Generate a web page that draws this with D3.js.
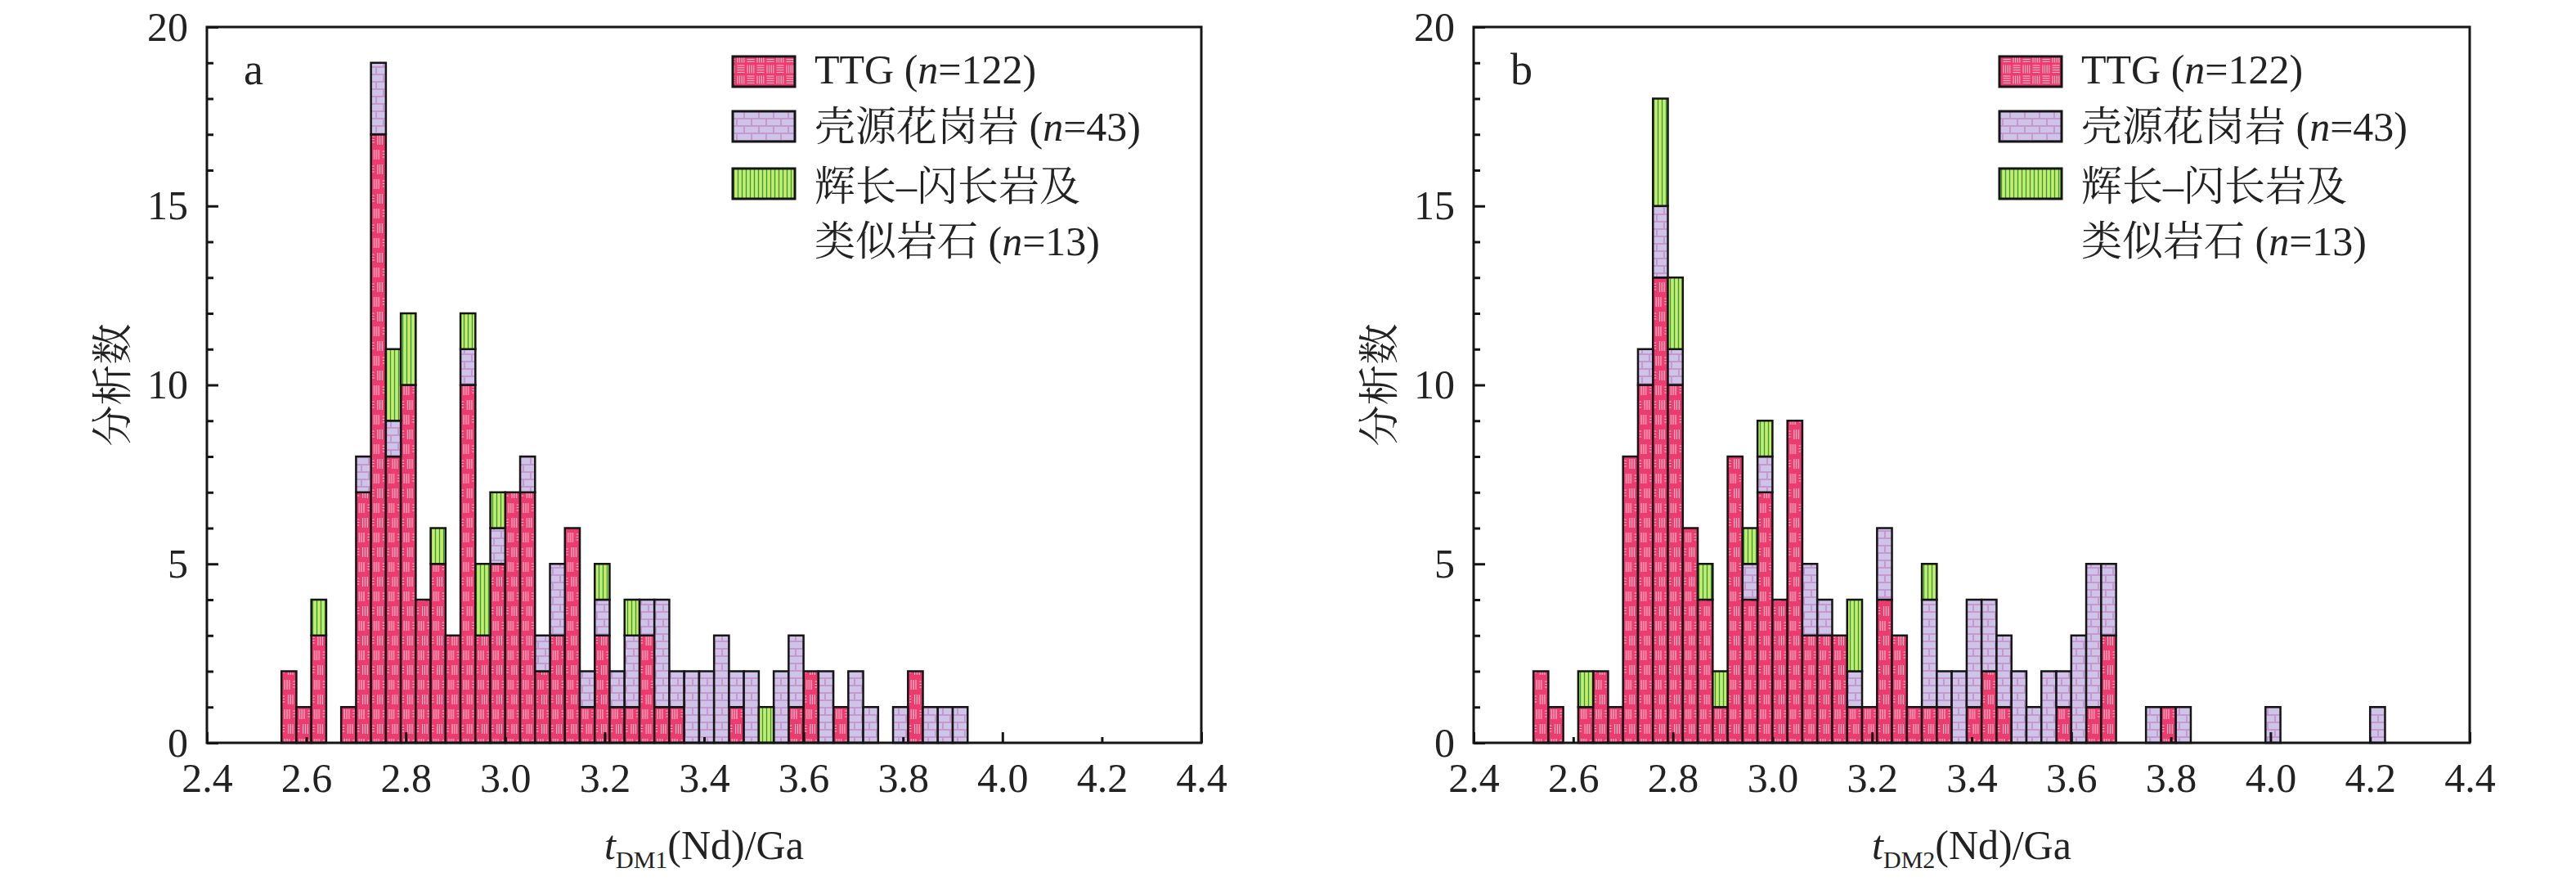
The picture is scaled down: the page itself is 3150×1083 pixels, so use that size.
<!DOCTYPE html>
<html><head><meta charset="utf-8">
<script src="https://cdn.jsdelivr.net/npm/d3@7"></script>
<style>body{margin:0;background:#fff}svg{display:block}</style>
</head><body>
<script>
// ---------- DATA ----------
const binWidth = 0.03;
const binsA = [2.55,2.58,2.61,2.64,2.67,2.70,2.73,2.76,2.79,2.82,2.85,2.88,2.91,2.94,2.97,3.00,3.03,3.06,3.09,3.12,3.15,3.18,3.21,3.24,3.27,3.30,3.33,3.36,3.39,3.42,3.45,3.48,3.51,3.54,3.57,3.60,3.63,3.66,3.69,3.72,3.75,3.78,3.81,3.84,3.87,3.90];
const ttgA   = [2,1,3,0,1,7,17,8,10,4,5,3,10,3,5,7,7,2,3,6,1,3,1,1,3,1,1,0,0,0,1,0,0,0,1,2,0,1,0,0,0,0,2,0,0,0];
const crustA = [0,0,0,0,0,1,2,1,0,0,0,0,1,0,1,0,1,1,2,0,1,1,1,2,1,3,1,2,2,3,1,2,0,2,2,0,2,0,2,1,0,1,0,1,1,1];
const gabA   = [0,0,1,0,0,0,0,2,2,0,1,0,1,2,1,0,0,0,0,0,0,1,0,1,0,0,0,0,0,0,0,0,1,0,0,0,0,0,0,0,0,0,0,0,0,0];

const binsB = [2.52,2.55,2.58,2.61,2.64,2.67,2.70,2.73,2.76,2.79,2.82,2.85,2.88,2.91,2.94,2.97,3.00,3.03,3.06,3.09,3.12,3.15,3.18,3.21,3.24,3.27,3.30,3.33,3.36,3.39,3.42,3.45,3.48,3.51,3.54,3.57,3.60,3.63,3.66,3.69,3.72,3.75,3.78,3.81,3.84,3.87,3.90,3.93,3.96,3.99,4.02,4.05,4.08,4.11,4.14,4.17,4.20];
const ttgB   = [2,1,0,1,2,1,8,10,13,10,6,4,1,8,4,7,4,9,3,3,3,1,1,4,3,1,1,1,0,1,2,1,0,0,0,1,0,1,3,0,0,0,1,0,0,0,0,0,0,0,0,0,0,0,0,0,0];
const crustB = [0,0,0,0,0,0,0,1,2,1,0,0,0,0,1,1,0,0,2,1,0,1,0,2,0,0,3,1,2,3,2,2,2,1,2,1,3,4,2,0,0,1,0,1,0,0,0,0,0,1,0,0,0,0,0,0,1];
const gabB   = [0,0,0,1,0,0,0,0,3,2,0,1,1,0,1,1,0,0,0,0,0,2,0,0,0,0,1,0,0,0,0,0,0,0,0,0,0,0,0,0,0,0,0,0,0,0,0,0,0,0,0,0,0,0,0,0,0];

const xTickLabels = [2.4,2.6,2.8,3.0,3.2,3.4,3.6,3.8,4.0,4.2,4.4];
const yTickValues = [0,1,2,3,4,5,6,7,8,9,10,11,12,13,14,15,16,17,18,19,20];
const seriesKeys = ["TTG","CG","GD"];
const legendLabels = [
  [["TTG (",false],["n",true],["=122)",false]],
  [["壳源花岗岩 (",false],["n",true],["=43)",false]],
  [["辉长–闪长岩及",false]],
  [["类似岩石 (",false],["n",true],["=13)",false]]
];
const yTitle = "分析数";

// ---------- LAYOUT ----------
const W = 3150, H = 1083, TOP = 33, BOTTOM = 908;
const SERIF = "'Liberation Serif','Times New Roman','Noto Serif CJK SC','Noto Sans CJK SC',serif";
const panels = [
  {label:"a", sub:"DM1", left:253, right:1469, bins:binsA, ttg:ttgA, cg:crustA, gd:gabA},
  {label:"b", sub:"DM2", left:1802, right:3020, bins:binsB, ttg:ttgB, cg:crustB, gd:gabB}
];

const svg = d3.select("body").append("svg").attr("width",W).attr("height",H)
  .attr("viewBox",`0 0 ${W} ${H}`);
svg.append("rect").attr("width",W).attr("height",H).attr("fill","#fff");

// ---------- PATTERNS ----------
const defs = svg.append("defs");
const TTG_FILL = "#EC3B6E", TTG_LINE = "#F8C4D5";
// legend-scale basketweave for TTG
{
  const p = defs.append("pattern").attr("id","pat-TTG-leg").attr("patternUnits","userSpaceOnUse")
    .attr("width",24).attr("height",26);
  p.append("rect").attr("width",24).attr("height",26).attr("fill",TTG_FILL);
  const vert = (x0,y0)=>{ for (let k=0;k<4;k++) p.append("line").attr("x1",x0+2+k*2.6).attr("x2",x0+2+k*2.6).attr("y1",y0+1.5).attr("y2",y0+11.5).attr("stroke",TTG_LINE).attr("stroke-width",1); };
  const hor = (x0,y0)=>{ for (let k=0;k<4;k++) p.append("line").attr("y1",y0+2+k*2.8).attr("y2",y0+2+k*2.8).attr("x1",x0+1.5).attr("x2",x0+10.5).attr("stroke",TTG_LINE).attr("stroke-width",1); };
  vert(0,0); hor(12,0); hor(0,13); vert(12,13);
}
{
  const p = defs.append("pattern").attr("id","pat-CG").attr("patternUnits","userSpaceOnUse")
    .attr("width",36).attr("height",18);
  p.append("rect").attr("width",36).attr("height",18).attr("fill","#CEC4E8");
  const lc = "#C698D0";
  p.append("line").attr("x1",0).attr("x2",36).attr("y1",1).attr("y2",1).attr("stroke",lc).attr("stroke-width",2);
  p.append("line").attr("x1",0).attr("x2",36).attr("y1",10).attr("y2",10).attr("stroke",lc).attr("stroke-width",2);
  [[1,1,10],[19,1,10],[10,10,19],[28,10,19]].forEach(([x,a,b])=>
    p.append("line").attr("x1",x).attr("x2",x).attr("y1",a).attr("y2",b).attr("stroke",lc).attr("stroke-width",2));
}
{
  const p = defs.append("pattern").attr("id","pat-GD").attr("patternUnits","userSpaceOnUse")
    .attr("width",5).attr("height",10);
  p.append("rect").attr("width",5).attr("height",10).attr("fill","#C6EC6E");
  p.append("line").attr("x1",2.5).attr("x2",2.5).attr("y1",0).attr("y2",10).attr("stroke","#2F9A3C").attr("stroke-width",1.3);
}
// bar-scale TTG pattern, aligned to each panel's bins
function makeBarTTG(id, x0, bw) {
  const p = defs.append("pattern").attr("id",id).attr("patternUnits","userSpaceOnUse")
    .attr("x",x0).attr("y",0).attr("width",bw).attr("height",36);
  p.append("rect").attr("width",bw).attr("height",36).attr("fill",TTG_FILL);
  const v = (xs,y0)=>xs.forEach(xx=>p.append("line").attr("x1",xx).attr("x2",xx).attr("y1",y0+3).attr("y2",y0+15)
      .attr("stroke",TTG_LINE).attr("stroke-width",1.1));
  const h = (xa,xb,y0)=>[5,8.5,12].forEach(dy=>p.append("line").attr("x1",xa).attr("x2",xb).attr("y1",y0+dy).attr("y2",y0+dy)
      .attr("stroke",TTG_LINE).attr("stroke-width",1));
  v([4,6.8,9.6],0); h(14,16.5,0);
  v([8.2,11,13.8],18); h(1.5,4,18);
}

// ---------- PANELS ----------
panels.forEach(p => {
  const g = svg.append("g");
  const x = d3.scaleLinear().domain([2.4,4.4]).range([p.left,p.right]);
  const y = d3.scaleLinear().domain([0,20]).range([BOTTOM,TOP]);
  const bw = x(p.bins[0]+binWidth)-x(p.bins[0]);
  const ttgId = "pat-TTG-"+p.label;
  makeBarTTG(ttgId, x(p.bins[0]), bw);
  const fillOf = k => k==="TTG" ? `url(#${ttgId})` : `url(#pat-${k})`;

  const rows = p.bins.map((b,i)=>({bin:b, TTG:p.ttg[i], CG:p.cg[i], GD:p.gd[i]}));
  const stacked = d3.stack().keys(seriesKeys)(rows);
  stacked.forEach(layer => {
    g.append("g").selectAll("rect").data(layer.filter(d=>d[1]>d[0])).join("rect")
      .attr("x", d=>x(d.data.bin))
      .attr("width", d=>x(d.data.bin+binWidth)-x(d.data.bin))
      .attr("y", d=>y(d[1]))
      .attr("height", d=>y(d[0])-y(d[1]))
      .attr("fill", fillOf(layer.key))
      .attr("stroke","#151515").attr("stroke-width",2.5);
  });

  // x axis
  const isMajorX = d => { const q=(d-2.4)/0.4; return Math.abs(q-Math.round(q))<1e-6; };
  const gx = g.append("g").attr("transform",`translate(0,${BOTTOM})`)
    .call(d3.axisBottom(x).tickValues(xTickLabels).tickFormat(d3.format(".1f"))
      .tickSizeInner(-7).tickSizeOuter(0).tickPadding(24));
  gx.select(".domain").remove();
  gx.selectAll(".tick line").attr("y2", d=>isMajorX(d)?-13:-7).attr("stroke","#151515").attr("stroke-width",3);
  gx.selectAll("text").attr("font-size",50).attr("font-family",SERIF).attr("fill","#222");

  // y axis
  const gy = g.append("g").attr("transform",`translate(${p.left},0)`)
    .call(d3.axisLeft(y).tickValues(yTickValues).tickFormat(d=>d%5===0?d:"")
      .tickSizeInner(-8).tickSizeOuter(0).tickPadding(23));
  gy.select(".domain").remove();
  gy.selectAll(".tick line").attr("x2", d=>d%5===0?14:8).attr("stroke","#151515").attr("stroke-width",3);
  gy.selectAll("text").attr("font-size",50).attr("font-family",SERIF).attr("fill","#222");

  // frame
  g.append("rect").attr("x",p.left).attr("y",TOP).attr("width",p.right-p.left).attr("height",BOTTOM-TOP)
    .attr("fill","none").attr("stroke","#151515").attr("stroke-width",3);

  // panel label
  g.append("text").attr("x",p.left+45).attr("y",103).attr("font-size",54).attr("font-family",SERIF)
    .attr("fill","#222").text(p.label);

  // legend
  const lx = p.left+643;
  const swY = [69,136,206];
  const legFill = k => k==="TTG" ? "url(#pat-TTG-leg)" : `url(#pat-${k})`;
  seriesKeys.forEach((k,i)=>{
    g.append("rect").attr("x",lx).attr("y",swY[i]).attr("width",76).attr("height",37)
      .attr("fill",legFill(k)).attr("stroke","#151515").attr("stroke-width",3);
  });
  const baselines = [102,172,245,312];
  legendLabels.forEach((parts,i)=>{
    const t = g.append("text").attr("x",lx+100).attr("y",baselines[i]).attr("font-size",50)
      .attr("font-family",SERIF).attr("fill","#222");
    parts.forEach(([s,it])=> t.append("tspan").attr("font-style",it?"italic":"normal").text(s));
  });

  // x title
  const xt = g.append("text").attr("x",(p.left+p.right)/2).attr("y",1050).attr("text-anchor","middle")
    .attr("font-size",50).attr("font-family",SERIF).attr("fill","#222");
  xt.append("tspan").attr("font-style","italic").text("t");
  xt.append("tspan").attr("font-size",30).attr("dy",11).text(p.sub);
  xt.append("tspan").attr("dy",-11).text("(Nd)/Ga");

  // y title
  g.append("text").attr("transform",`translate(${p.left-116},${(TOP+BOTTOM)/2}) rotate(-90)`)
    .attr("text-anchor","middle").attr("dy","0.35em").attr("font-size",50).attr("font-family",SERIF)
    .attr("fill","#222").text(yTitle);
});
</script>
</body></html>
